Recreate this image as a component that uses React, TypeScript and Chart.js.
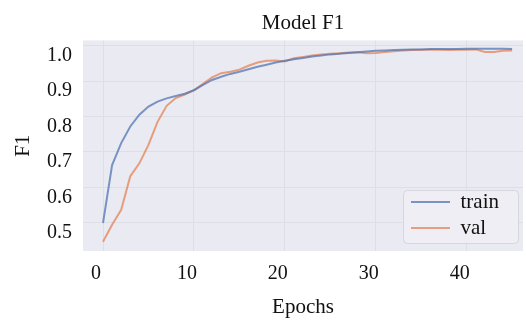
import React, { useEffect, useRef } from "react";
import { Chart, registerables } from "chart.js";

Chart.register(...registerables);

// ---- data ----
const epochs = [
  0, 1, 2, 3, 4, 5, 6, 7, 8, 9, 10, 11, 12, 13, 14, 15, 16, 17, 18, 19, 20, 21, 22,
  23, 24, 25, 26, 27, 28, 29, 30, 31, 32, 33, 34, 35, 36, 37, 38, 39, 40, 41, 42, 43, 44, 45,
];
const trainF1 = [
  0.5, 0.663, 0.725, 0.772, 0.805, 0.828, 0.842, 0.851, 0.858, 0.864, 0.874, 0.889,
  0.903, 0.912, 0.92, 0.926, 0.933, 0.94, 0.946, 0.952, 0.957, 0.961, 0.965, 0.969,
  0.972, 0.975, 0.977, 0.979, 0.981, 0.983, 0.985, 0.986, 0.987, 0.988, 0.989, 0.989,
  0.99, 0.99, 0.99, 0.99, 0.991, 0.991, 0.991, 0.991, 0.991, 0.99,
];
const valF1 = [
  0.447, 0.495, 0.537, 0.632, 0.668, 0.72, 0.785, 0.83, 0.852, 0.862, 0.874, 0.892,
  0.91, 0.922, 0.926, 0.932, 0.943, 0.952, 0.957, 0.958, 0.955, 0.964, 0.968, 0.972,
  0.975, 0.977, 0.978, 0.98, 0.981, 0.978, 0.979, 0.982, 0.984, 0.986, 0.987, 0.988,
  0.988, 0.988, 0.987, 0.988, 0.988, 0.989, 0.982, 0.982, 0.985, 0.986,
];
const seriesLabels = ["train", "val"];
const xTickValues = [0, 10, 20, 30, 40];
const yTickValues = [0.5, 0.6, 0.7, 0.8, 0.9, 1.0];
const chartTitle = "Model F1";
const xTitle = "Epochs";
const yTitle = "F1";

// ---- styles ----
const SERIF = "'Liberation Serif', 'Times New Roman', serif";
const TEXT = "#111111";
const PLOT_BG = "#EAEAF2";
const GRID = "#DEDEE7";
const TRAIN_COLOR = "rgba(76,114,176,0.72)";
const VAL_COLOR = "rgba(228,128,80,0.72)";

export default function App() {
  const ref = useRef<HTMLCanvasElement>(null);

  useEffect(() => {
    document.body.style.margin = "0";
    const canvas = ref.current;
    if (!canvas) return;

    const plotBg = {
      id: "plotBg",
      beforeDraw(chart: any) {
        const { ctx, chartArea: a } = chart;
        ctx.save();
        ctx.fillStyle = PLOT_BG;
        ctx.fillRect(a.left, a.top, a.right - a.left, a.bottom - a.top);
        ctx.restore();
      },
    };

    const legendBox = {
      id: "legendBox",
      afterLayout(chart: any) {
        const lg = chart.legend;
        if (!lg) return;
        const a = chart.chartArea;
        const fw = 115;
        const fh = 53;
        const fx = a.right - 5 - fw;
        const fy = a.bottom - 8 - fh;
        lg.left = fx + 3;
        lg.right = lg.left + lg.width;
        lg.top = fy;
        lg.bottom = fy + 53.5;
        lg._frame = { fx, fy, fw, fh };
        if (!lg._framePatched) {
          const orig = lg.draw;
          lg.draw = function (...args: any[]) {
            const f = this._frame;
            const ctx = this.ctx;
            if (f) {
              ctx.save();
              ctx.beginPath();
              if (ctx.roundRect) ctx.roundRect(f.fx + 0.5, f.fy + 0.5, f.fw, f.fh, 4);
              else ctx.rect(f.fx + 0.5, f.fy + 0.5, f.fw, f.fh);
              ctx.fillStyle = "rgba(238,238,244,0.9)";
              ctx.fill();
              ctx.strokeStyle = "#D6D6DE";
              ctx.lineWidth = 1;
              ctx.stroke();
              ctx.restore();
            }
            return orig.apply(this, args);
          };
          lg._framePatched = true;
        }
      },
    };

    const chart = new Chart(canvas, {
      type: "line",
      data: {
        datasets: [
          {
            label: seriesLabels[0],
            data: epochs.map((e, i) => ({ x: e, y: trainF1[i] })),
            borderColor: TRAIN_COLOR,
            backgroundColor: TRAIN_COLOR,
            borderWidth: 2,
            pointRadius: 0,
            pointHoverRadius: 0,
            pointStyle: "line",
            tension: 0,
            fill: false,
          },
          {
            label: seriesLabels[1],
            data: epochs.map((e, i) => ({ x: e, y: valF1[i] })),
            borderColor: VAL_COLOR,
            backgroundColor: VAL_COLOR,
            borderWidth: 2,
            pointRadius: 0,
            pointHoverRadius: 0,
            pointStyle: "line",
            tension: 0,
            fill: false,
          },
        ],
      },
      options: {
        responsive: false,
        animation: false,
        devicePixelRatio: 1,
        layout: { padding: { left: 7, right: 3, top: 0, bottom: 0 } },
        plugins: {
          title: {
            display: true,
            text: chartTitle,
            fullSize: false,
            color: TEXT,
            font: { family: SERIF, size: 21, weight: "normal" },
            padding: { top: 11, bottom: 4.3 },
          },
          legend: {
            position: "chartArea",
            align: "end",
            fullSize: false,
            labels: {
              color: TEXT,
              font: { family: SERIF, size: 21 },
              usePointStyle: true,
              pointStyle: "line",
              pointStyleWidth: 39,
              padding: 5,
            },
          },
          tooltip: { enabled: false },
        },
        scales: {
          x: {
            type: "linear",
            min: -2.2,
            max: 46.2,
            grid: { color: GRID, lineWidth: 1, drawTicks: false },
            border: { display: false },
            afterBuildTicks: (s: any) => {
              s.ticks = xTickValues.map((v) => ({ value: v }));
            },
            afterFit: (s: any) => {
              s.height = 69;
            },
            ticks: {
              color: TEXT,
              font: { family: SERIF, size: 20 },
              padding: 11,
              labelOffset: -7,
              maxRotation: 0,
              callback: (v: any) => String(v),
            },
            title: {
              display: true,
              text: xTitle,
              color: TEXT,
              font: { family: SERIF, size: 21 },
              padding: { top: 4, bottom: 0 },
            },
          },
          y: {
            type: "linear",
            min: 0.4211,
            max: 1.0141,
            grid: { color: GRID, lineWidth: 1, drawTicks: false },
            border: { display: false },
            afterBuildTicks: (s: any) => {
              s.ticks = yTickValues.map((v) => ({ value: v }));
            },
            afterFit: (s: any) => {
              s.width = 76;
            },
            ticks: {
              color: TEXT,
              font: { family: SERIF, size: 20 },
              padding: 11,
              labelOffset: 10,
              callback: (v: any) => Number(v).toFixed(1),
            },
            title: {
              display: true,
              text: yTitle,
              color: TEXT,
              font: { family: SERIF, size: 21 },
              padding: { top: 4, bottom: 4 },
            },
          },
        },
      },
      plugins: [plotBg, legendBox],
    } as any);

    return () => chart.destroy();
  }, []);

  return (
    <div style={{ width: 526, height: 320 }}>
      <canvas ref={ref} width={526} height={320} style={{ display: "block" }} />
    </div>
  );
}
